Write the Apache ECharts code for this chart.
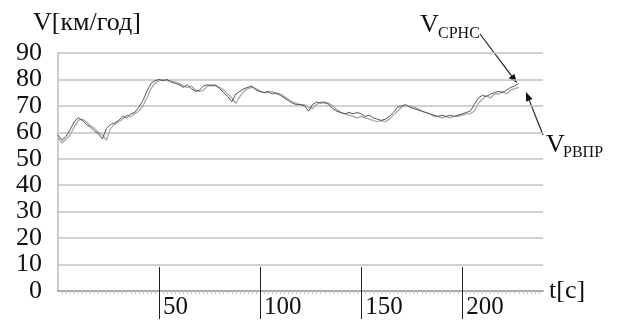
<!DOCTYPE html>
<html><head><meta charset="utf-8">
<script src="https://cdn.jsdelivr.net/npm/echarts@6/dist/echarts.min.js"></script>
<style>html,body{margin:0;padding:0;background:#fff}#c{width:617px;height:320px}</style>
</head><body><div id="c"></div>
<script>
const times = [0,2,4,6,8,10,12,14,16,18,20,22,24,26,28,30,32,34,36,38,40,42,44,46,48,50,52,54,56,58,60,62,64,66,68,70,72,74,76,78,80,82,84,86,88,90,92,94,96,98,100,102,104,106,108,110,112,114,116,118,120,122,124,126,128,130,132,134,136,138,140,142,144,146,148,150,152,154,156,158,160,162,164,166,168,170,172,174,176,178,180,182,184,186,188,190,192,194,196,198,200,202,204,206,208,210,212,214,216,218,220,222,224,226,228];
const vSRNS = [59,57,58.5,61,64,65.5,64.5,63,62,60.5,59.5,57.5,61.5,63,63.5,64.5,66,65.5,67,67.5,69.5,72,75.5,78.5,79.5,80,79.5,80,79,78.5,78,77,78,76.5,75.5,76,77.5,78,77.5,78,76.5,75,73.5,71.5,74.5,75.5,76.5,77,77.5,76,75.5,75,75.5,74.5,75,74,73,72,71,70.5,70.5,70,68,70.5,71.5,71,71.5,70.5,69,68,67.5,67,67.5,67,67.5,67,66,66.5,65.5,65,64.5,65,66,67.5,69.5,70,70.5,69.5,69,68.5,68,67.5,67,66.5,66,66.5,66,66.5,66,66.5,67,67.5,68,70.5,73,74,73.5,74.5,75,75.5,75,76,77,77.5,78.5];
const vRVPR = [58,56,57.5,59,62,64.5,65,64,62.5,61.5,60,59,57,61.5,63,64,65,66.5,66,67,68,70,73,76.5,78.5,79.5,80,79.5,79.5,79,78.5,77.5,77,77.5,76,75.5,76,77.5,78,77.5,77,76,74.5,73,71,73.5,75.5,76.5,77,76.5,75.5,75,75,75.5,74.5,74.5,73.5,72.5,71.5,71,70.5,70.5,69.5,69,70.5,71.5,71,71,70,68.5,67.5,67,66.5,66,65.5,66,65.5,65,64.5,64,64.5,64,65,66.5,68,69.5,70,70,69.5,69,68,67.5,67,66,66,65.5,66,65.5,66,66,66.5,67,67,68,71,72.5,74,73,74.5,74.5,75.5,74.5,76,76.5,77];
const xTicks = [50,100,150,200];
const yMin = 0, yMax = 90, yStep = 10;
const xMin = 0, xMax = 240, xStep = 50;

const FONT = '"Liberation Serif","DejaVu Serif",serif';
const chart = echarts.init(document.getElementById('c'), null, {renderer:'canvas'});

function arrow(x1,y1,x2,y2){
  const dx=x2-x1, dy=y2-y1, L=Math.hypot(dx,dy), ux=dx/L, uy=dy/L;
  const hl=9, hw=3.5;
  const bx=x2-ux*hl, by=y2-uy*hl;
  return [
    {type:'line', shape:{x1,y1,x2:bx,y2:by}, style:{stroke:'#222', lineWidth:1.2}, silent:true},
    {type:'polygon', shape:{points:[[x2,y2],[bx-uy*hw,by+ux*hw],[bx+uy*hw,by-ux*hw]]}, style:{fill:'#111'}, silent:true}
  ];
}

const txt = (x,y,t,fs)=>({type:'text', x, y, style:{text:t, font: fs+'px '+FONT, fill:'#111'}, silent:true});

chart.setOption({
  animation:false,
  backgroundColor:'#fff',
  grid:{left:58, right:74, top:53, bottom:28.5, containLabel:false},
  xAxis:[{
    type:'value', min:xMin, max:xMax, interval:xStep, position:'bottom',
    axisLine:{show:true, lineStyle:{color:'#aaa', width:2}},
    axisTick:{show:true, customValues:xTicks, length:28, lineStyle:{color:'#222', width:1}},
    minorTick:{show:true, splitNumber:25, length:3, lineStyle:{color:'#c4c4c4'}},
    axisLabel:{customValues:xTicks, align:'left', margin:4, padding:[0,0,0,4], fontSize:25, fontFamily:FONT, color:'#111'},
    splitLine:{show:false},
    name:'t[c]', nameLocation:'end', nameGap:6, nameTextStyle:{fontSize:26, fontFamily:FONT, color:'#111'}
  },{
    type:'value', min:xMin, max:xMax, interval:xStep, position:'bottom', offset:0,
    axisLine:{show:false},
    axisTick:{show:true, inside:true, customValues:xTicks, length:24, lineStyle:{color:'#222', width:1}},
    axisLabel:{show:false}, splitLine:{show:false}
  }],
  yAxis:{
    type:'value', min:yMin, max:yMax, interval:yStep,
    axisLine:{show:true, lineStyle:{color:'#bbb', width:1.5}},
    axisTick:{show:false},
    axisLabel:{fontSize:26, fontFamily:FONT, color:'#111', margin:16},
    splitLine:{show:true, lineStyle:{color:'#c2c2c2', width:1.5}}
  },
  series:[
    {name:'VРВПР', type:'line', data:times.map((t,i)=>[t,vRVPR[i]]), symbol:'none', lineStyle:{color:'#a8a8a8', width:1.3}, z:2},
    {name:'VСРНС', type:'line', data:times.map((t,i)=>[t,vSRNS[i]]), symbol:'none', lineStyle:{color:'#555', width:1}, z:3}
  ],
  graphic:[
    txt(33,10,'V[км/год]',26),
    txt(420,12,'V',26),
    txt(438,26,'СРНС',16),
    txt(546,132,'V',26),
    txt(563,145,'РВПР',16),
    ...arrow(480,34,517,83),
    ...arrow(543,135,526,92)
  ]
});
</script></body></html>
